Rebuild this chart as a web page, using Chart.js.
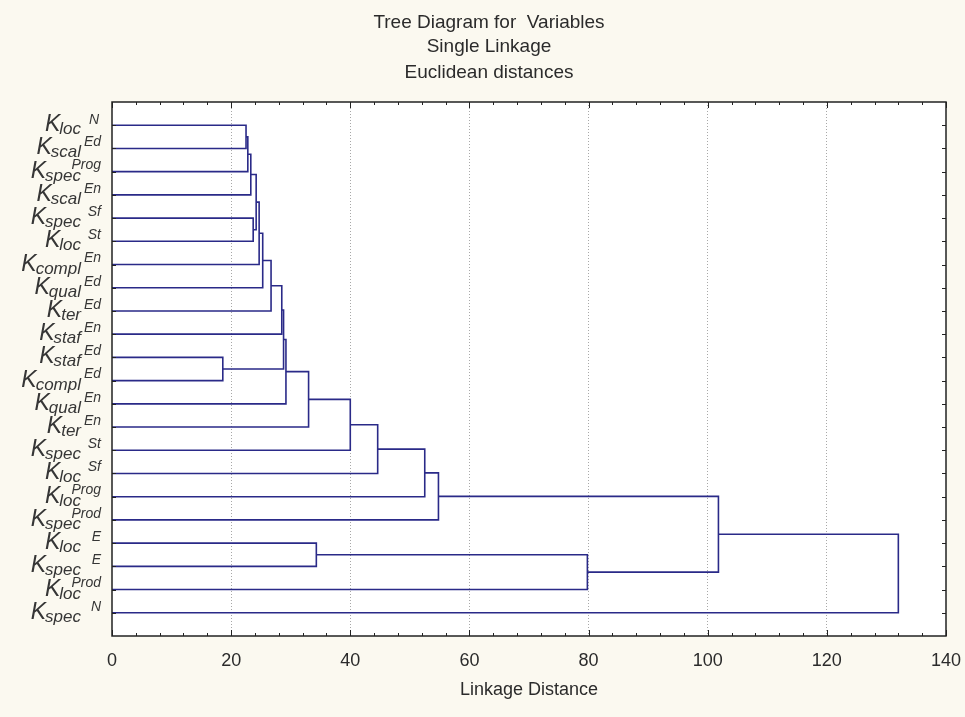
<!DOCTYPE html>
<html>
<head>
<meta charset="utf-8">
<script src="https://cdn.jsdelivr.net/npm/chart.js@4.4.0/dist/chart.umd.min.js"></script>
<style>
html,body{margin:0;padding:0;background:#fbf9f0;}
canvas{display:block;}
</style>
</head>
<body>
<canvas id="tree" width="965" height="717"></canvas>
<script>
// Variables, top to bottom (K_name with subscript)
const leafNames=["loc","scal","spec","scal","spec","loc","compl","qual","ter","staf","staf","compl","qual","ter","spec","loc","loc","spec","loc","spec","loc","spec"];
const leafSubs=["Ed","Prog","En","Sf","St","En","Ed","Ed","En","Ed","Ed","En","En","St","Sf","Prog","Prod","E","E","Prod","N",""];
const leafSups=["N","","","","","","","","","","","","","","","","","","","","",""];

// Single linkage joins: leaves are 0..21, join k makes cluster 22+k
const mergeA=[0,22,23,4,24,26,27,28,29,10,30,32,33,34,35,36,37,18,39,38,41];
const mergeB=[1,2,3,5,25,6,7,8,9,11,31,12,13,14,15,16,17,19,20,40,21];
const mergeDist=[22.5,22.8,23.3,23.7,24.2,24.7,25.3,26.7,28.5,18.6,28.8,29.2,33.0,40.0,44.6,52.5,54.8,34.3,79.8,101.8,132.0];

const xTicks=[0,20,40,60,80,100,120,140];

const FONT='"Liberation Sans", Arial, sans-serif';
const LINE='#2a2a88';
const TXT='#2b2b2b';

// build the U-links
const pos=leafNames.map((n,i)=>i+1);
const hgt=leafNames.map(()=>0);
const datasets=[];
mergeDist.forEach((d,k)=>{
  const a=mergeA[k],b=mergeB[k];
  datasets.push({
    data:[{x:hgt[a],y:pos[a]},{x:d,y:pos[a]},{x:d,y:pos[b]},{x:hgt[b],y:pos[b]}],
    showLine:true,borderColor:LINE,borderWidth:1.6,pointRadius:0,tension:0,fill:false
  });
  pos.push((pos[a]+pos[b])/2);
  hgt.push(d);
});

const treePlugin={
  id:'tree',
  beforeDraw(chart){
    const {ctx,chartArea:a}=chart;
    ctx.save();
    ctx.fillStyle='#fbf9f0';
    ctx.fillRect(0,0,chart.width,chart.height);
    ctx.fillStyle='#ffffff';
    ctx.fillRect(a.left,a.top,a.right-a.left,a.bottom-a.top);
    ctx.restore();
  },
  afterDatasetsDraw(chart){
    const {ctx,chartArea:a,scales:{x:xs,y:ys}}=chart;
    ctx.save();
    ctx.strokeStyle='#222';
    ctx.lineWidth=1.5;
    ctx.strokeRect(a.left,a.top,a.right-a.left,a.bottom-a.top);
    ctx.lineWidth=1;
    ctx.beginPath();
    for(let v=0;v<=140;v+=4){
      const px=Math.round(xs.getPixelForValue(v))+0.5;
      const len=v%20===0?6:3;
      ctx.moveTo(px,a.bottom);ctx.lineTo(px,a.bottom-len);
      ctx.moveTo(px,a.top);ctx.lineTo(px,a.top+len);
    }
    leafNames.forEach((n,i)=>{
      const py=Math.round(ys.getPixelForValue(i+1))+0.5;
      ctx.moveTo(a.left,py);ctx.lineTo(a.left+4,py);
      ctx.moveTo(a.right,py);ctx.lineTo(a.right-4,py);
    });
    ctx.stroke();
    ctx.restore();
  },
  afterDraw(chart){
    const {ctx,scales:{y:ys}}=chart;
    ctx.save();
    ctx.fillStyle=TXT;
    ctx.textAlign='center';
    ctx.textBaseline='alphabetic';
    ctx.font='19px '+FONT;
    ctx.fillText('Tree Diagram for  Variables',489,28);
    ctx.fillText('Single Linkage',489,52);
    ctx.fillText('Euclidean distances',489,78);

    ctx.fillStyle='#363636';
    leafNames.forEach((n,i)=>{
      const y=ys.getPixelForValue(i+1);
      ctx.textAlign='right';
      ctx.font='italic 14px '+FONT;
      if(leafSubs[i]) ctx.fillText(leafSubs[i],101,y+21);
      if(leafSups[i]) ctx.fillText(leafSups[i],99,y-1);
      ctx.font='italic 17px '+FONT;
      const catRight=81;
      ctx.fillText(n,catRight,y+9);
      const w=ctx.measureText(n).width;
      ctx.font='italic 23px '+FONT;
      ctx.fillText('K',catRight-w+1,y+6);
    });
    ctx.restore();
  }
};

new Chart(document.getElementById('tree'),{
  type:'scatter',
  data:{datasets},
  options:{
    responsive:false,
    animation:false,
    events:[],
    layout:{padding:{top:102,right:19,left:0,bottom:0}},
    plugins:{legend:{display:false},title:{display:false},tooltip:{enabled:false}},
    scales:{
      x:{
        type:'linear',min:0,max:140,
        afterFit:s=>{s.height=81;s.paddingLeft=0;s.paddingRight=0;},
        afterBuildTicks:s=>{s.ticks=xTicks.map(v=>({value:v}));},
        ticks:{padding:14,color:TXT,font:{family:FONT,size:18},maxRotation:0,autoSkip:false},
        grid:{drawTicks:false,lineWidth:1,color:c=>(c.tick&&(c.tick.value===0||c.tick.value===140))?'rgba(0,0,0,0)':'#a8a8a8'},
        border:{display:false,dash:[1,2]},
        title:{display:true,text:'Linkage Distance',color:TXT,font:{family:FONT,size:18},padding:{top:0,bottom:16}}
      },
      y:{
        type:'linear',min:0,max:23,reverse:true,
        afterFit:s=>{s.width=112;},
        ticks:{display:false},
        grid:{display:false},
        border:{display:false}
      }
    }
  },
  plugins:[treePlugin]
});
</script>
</body>
</html>
